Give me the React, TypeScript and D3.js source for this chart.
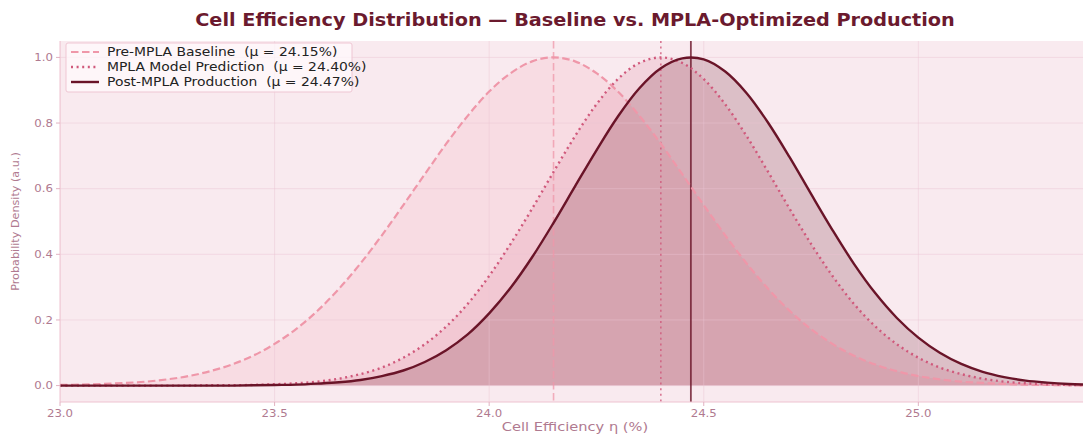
import React from 'react';
import * as d3 from 'd3';

// efficiency grid (%), read every 0.05 along the x axis
const effGrid = [
  23.0, 23.05, 23.1, 23.15, 23.2, 23.25, 23.3, 23.35, 23.4, 23.45,
  23.5, 23.55, 23.6, 23.65, 23.7, 23.75, 23.8, 23.85, 23.9, 23.95,
  24.0, 24.05, 24.1, 24.15, 24.2, 24.25, 24.3, 24.35, 24.4, 24.45,
  24.5, 24.55, 24.6, 24.65, 24.7, 24.75, 24.8, 24.85, 24.9, 24.95,
  25.0, 25.05, 25.1, 25.15, 25.2, 25.25, 25.3, 25.35, 25.4,
];

const baselineDensity = [
  0.002, 0.003, 0.005, 0.008, 0.012, 0.019, 0.029, 0.044, 0.064, 0.091,
  0.127, 0.172, 0.228, 0.295, 0.372, 0.458, 0.55, 0.644, 0.737, 0.822,
  0.896, 0.952, 0.988, 1.0, 0.988, 0.952, 0.896, 0.822, 0.737, 0.644,
  0.55, 0.458, 0.372, 0.295, 0.228, 0.172, 0.127, 0.091, 0.064, 0.044,
  0.029, 0.019, 0.012, 0.008, 0.005, 0.003, 0.002, 0.001, 0.001,
];

const predictedDensity = [
  0.0, 0.0, 0.0, 0.0, 0.0, 0.0, 0.0, 0.001, 0.001, 0.002,
  0.004, 0.007, 0.012, 0.021, 0.035, 0.055, 0.085, 0.126, 0.18, 0.249,
  0.334, 0.432, 0.539, 0.651, 0.76, 0.857, 0.934, 0.983, 1.0, 0.983,
  0.934, 0.857, 0.76, 0.651, 0.539, 0.432, 0.334, 0.249, 0.18, 0.126,
  0.085, 0.055, 0.035, 0.021, 0.012, 0.007, 0.004, 0.002, 0.001,
];

const productionDensity = [
  0.0, 0.0, 0.0, 0.0, 0.0, 0.0, 0.0, 0.0, 0.0, 0.001,
  0.002, 0.003, 0.006, 0.01, 0.017, 0.029, 0.046, 0.072, 0.108, 0.156,
  0.22, 0.298, 0.391, 0.496, 0.607, 0.717, 0.82, 0.906, 0.967, 0.997,
  0.994, 0.957, 0.891, 0.801, 0.696, 0.584, 0.474, 0.371, 0.281, 0.206,
  0.146, 0.1, 0.066, 0.042, 0.026, 0.015, 0.009, 0.005, 0.003,
];

const seriesNames = ['Pre-MPLA Baseline', 'MPLA Model Prediction', 'Post-MPLA Production'];
const seriesMeans = [24.15, 24.4, 24.47];
const xTicks = [23.0, 23.5, 24.0, 24.5, 25.0];
const yTicks = [0.0, 0.2, 0.4, 0.6, 0.8, 1.0];

const W = 1083, H = 434;
const margin = { left: 60, right: -7, top: 41, bottom: 32 };
// the source picture is stretched sideways a little, so text gets a matching x scale
const SX = 1.22;

const styles = [
  { color: '#ef97a9', dash: '7.5,3.5', width: 2.2, fill: 'rgba(240,150,170,0.16)', vAlpha: 0.75, vWidth: 1.6 },
  { color: '#d0587b', dash: '2,3.6', width: 2.4, fill: 'rgba(208,88,122,0.15)', vAlpha: 0.8, vWidth: 1.6 },
  { color: '#6a1428', dash: null, width: 2.4, fill: 'rgba(107,20,40,0.2)', vAlpha: 0.8, vWidth: 1.8 },
];

const App = () => {
  const x = d3.scaleLinear().domain([23.0, 25.4]).range([margin.left, W - margin.right]);
  const y = d3.scaleLinear().domain([-0.05, 1.05]).range([H - margin.bottom, margin.top]);

  const all = [baselineDensity, predictedDensity, productionDensity];
  const line = d3.line<number>()
    .x((_, i) => x(effGrid[i]))
    .y((d) => y(d))
    .curve(d3.curveCatmullRom);
  const area = d3.area<number>()
    .x((_, i) => x(effGrid[i]))
    .y0(y(0))
    .y1((d) => y(d))
    .curve(d3.curveCatmullRom);

  const tickColor = '#b07a90';
  const plotTop = margin.top, plotBottom = H - margin.bottom;
  const at = (px: number, py: number, sx = SX) => `translate(${px},${py}) scale(${sx},1)`;

  return (
    <svg width={W} height={H} style={{ position: 'absolute', left: 0, top: 0, fontFamily: 'DejaVu Sans' }}>
      <defs>
        <clipPath id="plot">
          <rect x={margin.left} y={plotTop} width={W - margin.left} height={plotBottom - plotTop} />
        </clipPath>
      </defs>
      <rect width={W} height={H} fill="#ffffff" />
      <rect x={margin.left} y={plotTop} width={W - margin.left} height={plotBottom - plotTop} fill="#f9eaef" />

      <g clipPath="url(#plot)">
        {all.map((s, i) => (
          <path key={'a' + i} d={area(s) || ''} fill={styles[i].fill} />
        ))}
        {/* grid */}
        {xTicks.map((t) => (
          <line key={'gx' + t} x1={x(t)} x2={x(t)} y1={plotTop} y2={plotBottom} stroke="rgba(236,196,210,0.45)" strokeWidth={1} />
        ))}
        {yTicks.map((t) => (
          <line key={'gy' + t} x1={margin.left} x2={W} y1={y(t)} y2={y(t)} stroke="rgba(236,196,210,0.45)" strokeWidth={1} />
        ))}
        {seriesMeans.map((m, i) => (
          <line key={'v' + i} x1={x(m)} x2={x(m)} y1={plotTop} y2={plotBottom}
            stroke={styles[i].color} strokeOpacity={styles[i].vAlpha} strokeWidth={styles[i].vWidth}
            strokeDasharray={styles[i].dash || undefined} />
        ))}
        {all.map((s, i) => (
          <path key={'l' + i} d={line(s) || ''} fill="none" stroke={styles[i].color}
            strokeWidth={styles[i].width} strokeDasharray={styles[i].dash || undefined} />
        ))}
      </g>

      {/* spines */}
      <line x1={margin.left} x2={margin.left} y1={plotTop} y2={plotBottom} stroke="#eec3d0" strokeWidth={1} />
      <line x1={margin.left} x2={W} y1={plotBottom} y2={plotBottom} stroke="#eec3d0" strokeWidth={1} />

      {/* y axis */}
      {yTicks.map((t) => (
        <g key={'yt' + t}>
          <line x1={margin.left - 4} x2={margin.left} y1={y(t)} y2={y(t)} stroke="#e2b2c2" strokeWidth={1} />
          <text transform={at(margin.left - 7, y(t), 1.12)} dy="0.35em" textAnchor="end" fontSize={10.5} fill={tickColor}>{t.toFixed(1)}</text>
        </g>
      ))}
      {/* x axis */}
      {xTicks.map((t) => (
        <g key={'xt' + t}>
          <line x1={x(t)} x2={x(t)} y1={plotBottom} y2={plotBottom + 4} stroke="#e2b2c2" strokeWidth={1} />
          <text transform={at(x(t), plotBottom + 15, 1.12)} textAnchor="middle" fontSize={10.5} fill={tickColor}>{t.toFixed(1)}</text>
        </g>
      ))}

      <text transform={at(575, 431)} textAnchor="middle" fontSize={12} fill={tickColor}>Cell Efficiency η (%)</text>
      <text transform={`translate(19,${(plotTop + plotBottom) / 2}) rotate(-90)`} textAnchor="middle" fontSize={11.2} fill={tickColor}>Probability Density (a.u.)</text>

      <text transform={at(575, 26, 1.1)} textAnchor="middle" fontSize={17.5} fontWeight="bold" fill="#6b1a2e">
        Cell Efficiency Distribution — Baseline vs. MPLA-Optimized Production
      </text>

      {/* legend */}
      <g transform="translate(66,43)">
        <rect x={0} y={0} width={286} height={49} rx={2} fill="rgba(255,250,252,0.75)" stroke="#efc6d3" strokeWidth={1} />
        {seriesNames.map((n, i) => (
          <g key={'lg' + i} transform={`translate(0,${9 + i * 15})`}>
            <line x1={5} x2={33} y1={0} y2={0} stroke={styles[i].color} strokeWidth={styles[i].width}
              strokeDasharray={styles[i].dash || undefined} />
            <text transform={at(41, 0)} dy="0.35em" fontSize={11.4} fill="#222" style={{ whiteSpace: 'pre' }}>
              {`${n}  (μ = ${seriesMeans[i].toFixed(2)}%)`}
            </text>
          </g>
        ))}
      </g>
    </svg>
  );
};

export default App;
